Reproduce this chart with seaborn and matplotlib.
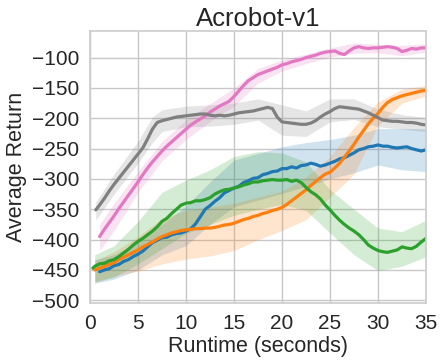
import numpy as np
import pandas as pd
import matplotlib
matplotlib.use("Agg")
import matplotlib.pyplot as plt
import seaborn as sns

# ---------------- data ----------------
title = "Acrobot-v1"
xlabel = "Runtime (seconds)"
ylabel = "Average Return"
xticks = [0, 5, 10, 15, 20, 25, 30, 35]
yticks = [-500, -450, -400, -350, -300, -250, -200, -150, -100]

# line x grids
blue_x = [1, 1.5, 2, 2.5, 3, 3.5, 4, 4.5, 5, 5.5, 6, 6.5, 7, 7.5, 8, 8.5, 9, 9.5, 10, 10.5,
          11, 11.5, 12, 12.5, 13, 13.5, 14, 14.5, 15, 15.5, 16, 16.5, 17, 17.5, 18, 18.5, 19,
          19.5, 20, 20.5, 21, 21.5, 22, 22.5, 23, 23.5, 24, 24.5, 25, 25.5, 26, 26.5, 27, 27.5,
          28, 28.5, 29, 29.5, 30, 30.5, 31, 31.5, 32, 32.5, 33, 33.5, 34, 34.5, 35]
blue_y = [-453, -450, -448, -443, -441, -436, -433, -428, -424, -419, -412, -405, -401, -397,
          -396, -392, -390, -389, -386, -382, -374, -362, -350, -344, -337, -331, -323, -319,
          -315, -312, -306, -303, -299, -298, -293, -291, -288, -287, -283, -283, -280, -282,
          -278, -277, -274, -276, -279, -277, -274, -271, -267, -265, -261, -257, -252, -250,
          -247, -246, -244, -246, -246, -248, -249, -248, -247, -250, -252, -254, -252]

orange_x = [0.5, 1, 1.5, 2, 2.5, 3, 3.5, 4, 4.5, 5, 5.5, 6, 6.5, 7, 7.5, 8, 8.5, 9, 9.5, 10,
            10.5, 11, 11.5, 12, 12.5, 13, 13.5, 14, 14.5, 15, 15.5, 16, 16.5, 17, 17.5, 18,
            18.5, 19, 19.5, 20, 20.5, 21, 21.5, 22, 22.5, 23, 23.5, 24, 24.5, 25, 25.5, 26,
            26.5, 27, 27.5, 28, 28.5, 29, 29.5, 30, 30.5, 31, 31.5, 32, 32.5, 33, 33.5, 34,
            34.5, 35]
orange_y = [-450, -447, -444, -441, -438, -433, -429, -425, -421, -417, -412, -408, -404,
            -399, -395, -392, -389, -387, -385, -384, -383, -382, -382, -381, -381, -380,
            -378, -376, -375, -373, -370, -367, -365, -362, -360, -357, -355, -352, -350,
            -347, -342, -336, -330, -324, -318, -311, -304, -298, -292, -289, -282, -274,
            -264, -254, -243, -231, -220, -209, -200, -192, -182, -174, -169, -166, -163,
            -161, -159, -157, -155, -154]

green_x = [0.3, 0.5, 1, 1.5, 2, 2.5, 3, 3.5, 4, 4.5, 5, 5.5, 6, 6.5, 7, 7.5, 8, 8.5, 9, 9.5,
           10, 10.5, 11, 11.5, 12, 12.5, 13, 13.5, 14, 14.5, 15, 15.5, 16, 16.5, 17, 17.5,
           18, 18.5, 19, 19.5, 20, 20.5, 21, 21.5, 22, 22.5, 23, 23.5, 24, 24.5, 25, 25.5,
           26, 26.5, 27, 27.5, 28, 28.5, 29, 29.5, 30, 30.5, 31, 31.5, 32, 32.5, 33, 33.5,
           34, 34.5, 35]
green_y = [-447, -444, -440, -439, -435, -433, -428, -422, -416, -409, -403, -398, -392,
           -386, -379, -370, -365, -357, -350, -343, -340, -339, -336, -336, -334, -331,
           -325, -321, -318, -317, -315, -313, -310, -308, -305, -305, -303, -302, -301,
           -302, -302, -301, -304, -302, -306, -314, -321, -326, -333, -343, -351, -360,
           -368, -375, -381, -386, -392, -400, -409, -414, -418, -420, -421, -419, -417,
           -412, -414, -415, -411, -404, -398]

pink_x = [1, 1.5, 2, 2.5, 3, 3.5, 4, 4.5, 5, 5.5, 6, 6.5, 7, 7.5, 8, 8.5, 9, 9.5, 10, 10.5,
          11, 11.5, 12, 12.5, 13, 13.5, 14, 14.5, 15, 15.5, 16, 16.5, 17, 17.5, 18, 18.5, 19,
          19.5, 20, 20.5, 21, 21.5, 22, 22.5, 23, 23.5, 24, 24.5, 25, 25.5, 26, 26.5, 27, 27.5,
          28, 28.5, 29, 29.5, 30, 30.5, 31, 31.5, 32, 32.5, 33, 33.5, 34, 34.5, 35]
pink_y = [-395, -383, -372, -361, -349, -338, -327, -316, -305, -293, -282, -272, -263,
          -254, -246, -239, -232, -225, -218, -211, -206, -201, -196, -190, -185, -180,
          -176, -172, -164, -155, -146, -138, -133, -128, -125, -122, -119, -116, -112,
          -110, -107, -105, -103, -100, -98, -96, -93, -91, -90, -89, -93, -95, -89, -84,
          -82, -84, -85, -84, -84, -83, -82, -83, -85, -90, -88, -85, -86, -84, -84]

gray_x = [0.6, 1, 1.5, 2, 2.5, 3, 3.5, 4, 4.5, 5, 5.5, 6, 6.5, 7, 7.5, 8, 8.5, 9, 9.5, 10,
          10.5, 11, 11.5, 12, 12.5, 13, 13.5, 14, 14.5, 15, 15.5, 16, 16.5, 17, 17.5, 18, 18.5,
          19, 19.5, 20, 20.5, 21, 21.5, 22, 22.5, 23, 23.5, 24, 24.5, 25, 25.5, 26, 26.5, 27,
          27.5, 28, 28.5, 29, 29.5, 30, 30.5, 31, 31.5, 32, 32.5, 33, 33.5, 34, 34.5, 35]
gray_y = [-351, -343, -332, -320, -309, -299, -289, -279, -269, -259, -249, -234, -218,
          -207, -204, -202, -200, -198, -197, -196, -195, -194, -193, -193, -195, -196,
          -195, -196, -195, -193, -191, -190, -189, -188, -186, -184, -182, -184, -198,
          -206, -207, -208, -209, -210, -210, -208, -204, -198, -193, -189, -184, -181,
          -182, -183, -184, -185, -188, -191, -195, -199, -203, -204, -205, -205, -206,
          -207, -207, -208, -210, -211]

# band grids (lower / upper envelopes)
band_x = [0.5, 2.5, 5, 7.5, 10, 12.5, 15, 17.5, 20, 22.5, 25, 27.5, 30, 32.5, 35]
blue_lo = [-472, -465, -450, -425, -410, -375, -346, -335, -324, -312, -300, -290, -277, -285, -288]
blue_hi = [-433, -425, -405, -375, -345, -305, -269, -258, -247, -240, -235, -228, -217, -217, -217]
orange_lo = [-470, -460, -452, -440, -432, -427, -418, -400, -385, -367, -330, -292, -212, -175, -163]
orange_hi = [-435, -420, -395, -365, -352, -346, -340, -330, -320, -297, -263, -215, -173, -152, -146]
green_lo = [-470, -462, -440, -415, -390, -375, -360, -350, -342, -352, -389, -425, -451, -444, -428]
green_hi = [-425, -410, -370, -322, -302, -285, -263, -255, -257, -272, -318, -350, -381, -387, -368]
pink_band_x = [1, 2.5, 5, 7.5, 10, 12.5, 15, 17.5, 20, 22.5, 25, 27.5, 30, 32.5, 35]
pink_lo = [-418, -385, -322, -270, -235, -205, -180, -142, -122, -110, -99, -93, -92, -97, -91]
pink_hi = [-375, -340, -288, -238, -203, -176, -150, -118, -104, -94, -84, -76, -78, -80, -77]
gray_band_x = [0.6, 2.5, 5, 6.5, 7.5, 10, 12.5, 15, 17.5, 20, 22.5, 25, 27.5, 30, 32.5, 35]
gray_lo = [-368, -325, -274, -240, -222, -214, -213, -210, -203, -228, -230, -206, -202, -214, -218, -222]
gray_hi = [-338, -292, -238, -198, -186, -180, -178, -175, -168, -178, -188, -168, -168, -185, -194, -199]

colors = {"blue": "#1f77b4", "orange": "#ff7f0e", "green": "#2ca02c",
          "pink": "#e377c2", "gray": "#7f7f7f"}

# ---------------- plot ----------------
sns.set_theme(style="whitegrid")
plt.rcParams["font.family"] = ["Liberation Sans", "DejaVu Sans"]
plt.rcParams["axes.edgecolor"] = "#cccccc"
plt.rcParams["grid.color"] = "#c8c8c8"

fig = plt.figure(figsize=(4.44, 3.64), dpi=100)
ax = fig.add_axes([90 / 444, 1 - 302.7 / 364, (426 - 90) / 444, (302.7 - 31.5) / 364])

series = [
    ("blue", blue_x, blue_y, band_x, blue_lo, blue_hi),
    ("orange", orange_x, orange_y, band_x, orange_lo, orange_hi),
    ("green", green_x, green_y, band_x, green_lo, green_hi),
    ("pink", pink_x, pink_y, pink_band_x, pink_lo, pink_hi),
    ("gray", gray_x, gray_y, gray_band_x, gray_lo, gray_hi),
]

for name, xs, ys, bx, lo, hi in series:
    c = colors[name]
    ax.fill_between(bx, lo, hi, color=c, alpha=0.2, linewidth=0)
    df = pd.DataFrame({"x": xs, "y": ys})
    sns.lineplot(data=df, x="x", y="y", ax=ax, color=c, linewidth=2.3)

ax.set_xlim(0, 35)
ax.set_ylim(-504, -57)
ax.set_xticks(xticks)
ax.set_yticks(yticks)
ax.tick_params(axis="both", labelsize=15, pad=2)
ax.set_title(title, fontsize=18.5, pad=4)
ax.set_xlabel(xlabel, fontsize=15.5, labelpad=2)
ax.set_ylabel(ylabel, fontsize=15.5, labelpad=3)
for s in ax.spines.values():
    s.set_color("#cccccc")
    s.set_linewidth(1.2)

fig.savefig("out.png", dpi=100)
